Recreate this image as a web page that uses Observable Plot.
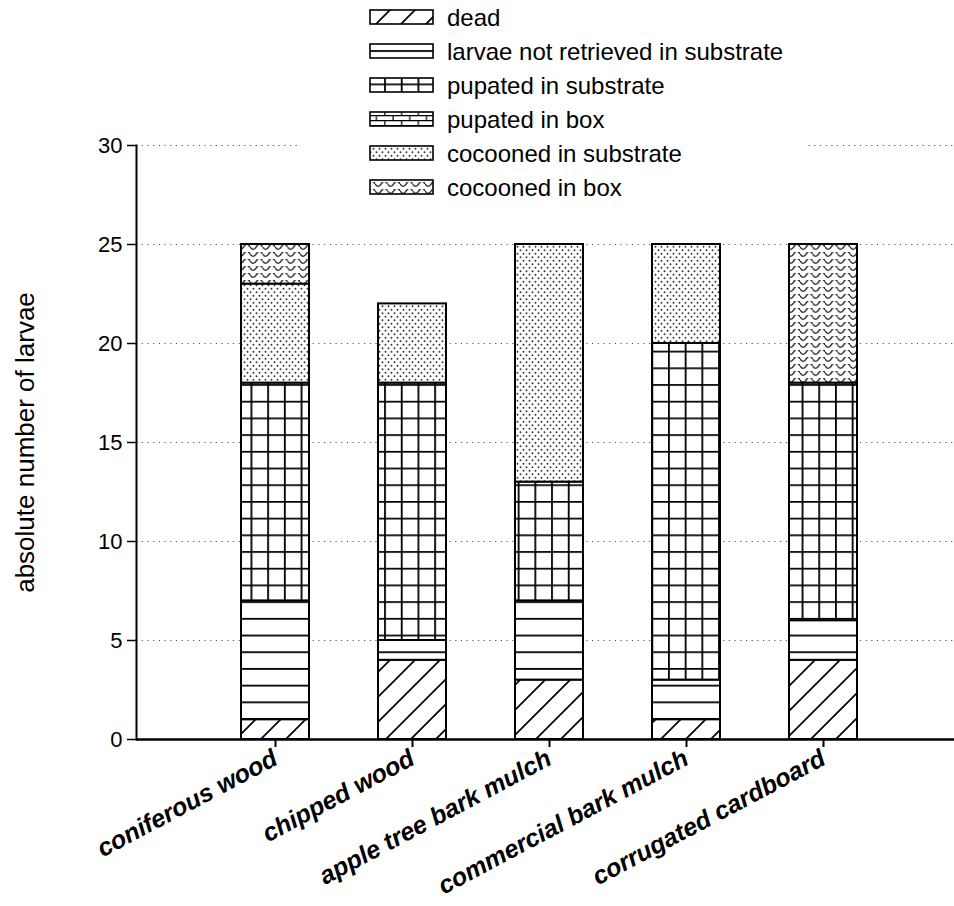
<!DOCTYPE html>
<html><head><meta charset="utf-8">
<script src="https://cdn.jsdelivr.net/npm/d3@7"></script>
<script src="https://cdn.jsdelivr.net/npm/@observablehq/plot@0.6"></script>
<style>body{margin:0;background:#fff;} svg{font-family:"Liberation Sans",Arial,sans-serif;}</style>
</head><body><div id="chart"></div>
<script>
const substrates = ["coniferous wood","chipped wood","apple tree bark mulch","commercial bark mulch","corrugated cardboard"];
const stages = ["dead","larvae not retrieved in substrate","pupated in substrate","pupated in box","cocooned in substrate","cocooned in box"];
const dead = [1,4,3,1,4];
const notRetrieved = [6,1,4,2,2];
const pupatedSubstrate = [11,13,6,17,12];
const pupatedBox = [0,0,0,0,0];
const cocoonedSubstrate = [5,4,12,5,0];
const cocoonedBox = [2,0,0,0,7];
const yTicks = [0,5,10,15,20,25,30];
const yTitle = "absolute number of larvae";

const seriesValues = [dead, notRetrieved, pupatedSubstrate, pupatedBox, cocoonedSubstrate, cocoonedBox];
const patId = s => "pat-" + stages.indexOf(s);
const rows = [];
substrates.forEach((sub, i) => {
  stages.forEach((st, j) => {
    const v = seriesValues[j][i];
    if (v > 0) rows.push({substrate: sub, stage: st, count: v});
  });
});

const chart = Plot.plot({
  width: 954, height: 906,
  marginLeft: 136, marginRight: 0, marginTop: 145, marginBottom: 167,
  style: {fontFamily: "Liberation Sans, Arial, sans-serif", background: "white", color: "black"},
  x: {domain: substrates, paddingInner: 0.506, paddingOuter: 0.72, align: 0.52, label: null},
  y: {domain: [0, 30], label: null},
  color: {domain: stages, range: stages.map(s => `url(#${patId(s)})`)},
  marks: [
    Plot.gridY(yTicks.filter(d => d > 0), {stroke: "#555", strokeOpacity: 1, strokeDasharray: "1.2,4.5", strokeWidth: 1}),
    Plot.barY(rows, {x: "substrate", y: "count", fill: "stage", order: stages, stroke: "black", strokeWidth: 2}),
    Plot.ruleY([0], {stroke: "black", strokeWidth: 2.5}),
    Plot.frame({anchor: "left", stroke: "black", strokeWidth: 2}),
    Plot.axisY(yTicks, {tickSize: 9, tickPadding: 5, fontSize: 22, strokeWidth: 1.5, label: null}),
    Plot.text([yTitle], {frameAnchor: "left", textAnchor: "middle", dx: -111, rotate: -90, fontSize: 26, fill: "black"}),
    Plot.axisX({tickSize: 8, tickPadding: 9, tickRotate: -28, fontSize: 25, fontWeight: "bold", fontStyle: "italic", strokeWidth: 2})
  ]
});

const svg = d3.select(chart);
const defs = svg.insert("defs", ":first-child");
function pat(id, w, h) {
  const p = defs.append("pattern").attr("id", id).attr("patternUnits", "userSpaceOnUse")
    .attr("width", w).attr("height", h);
  p.append("rect").attr("width", w).attr("height", h).attr("fill", "white");
  return p;
}
// dead: diagonal hatch
let p = pat("pat-0", 25, 25);
p.append("path").attr("d", "M-2,27 L27,-2 M-6,6 L6,-6 M19,31 L31,19").attr("stroke", "black").attr("stroke-width", 1.7);
// larvae not retrieved: horizontal lines
p = pat("pat-1", 16.7, 16.7);
p.append("path").attr("d", "M0,0.9 H16.7").attr("stroke", "black").attr("stroke-width", 1.8);
// pupated in substrate: grid
p = pat("pat-2", 16.7, 16.7);
p.append("path").attr("d", "M0,0.9 H16.7 M0.9,0 V16.7").attr("stroke", "black").attr("stroke-width", 1.8);
// pupated in box: bricks
p = pat("pat-3", 16.7, 10);
p.append("path").attr("d", "M0,0.6 H16.7 M0,5.6 H16.7 M0.8,0 V5.6 M9,5.6 V10").attr("stroke", "black").attr("stroke-width", 1.2);
// cocooned in substrate: dots
p = pat("pat-4", 6, 7);
p.append("circle").attr("cx", 1.5).attr("cy", 1.75).attr("r", 0.95).attr("fill", "#333");
p.append("circle").attr("cx", 4.5).attr("cy", 5.25).attr("r", 0.95).attr("fill", "#333");
// cocooned in box: waves
p = pat("pat-5", 12.5, 7);
p.append("path").attr("d", "M0,1.8 Q3.125,7 6.25,1.8 T12.5,1.8").attr("fill", "none").attr("stroke", "#222").attr("stroke-width", 1.4);

// legend
const lg = svg.append("g").attr("class", "legend").attr("text-anchor", "start");
lg.append("rect").attr("x", 300).attr("y", 0).attr("width", 505).attr("height", 205).attr("fill", "white");
stages.forEach((s, i) => {
  const cy = 17 + i * 34;
  lg.append("rect").attr("x", 370).attr("y", cy - 7).attr("width", 63).attr("height", 14)
    .attr("fill", `url(#${patId(s)})`).attr("stroke", "black").attr("stroke-width", 1.6);
  lg.append("text").attr("x", 447).attr("y", cy).attr("dy", "0.36em").attr("text-anchor", "start")
    .attr("font-size", 24).attr("fill", "black").text(s);
});

document.getElementById("chart").appendChild(chart);
</script>
</body></html>
